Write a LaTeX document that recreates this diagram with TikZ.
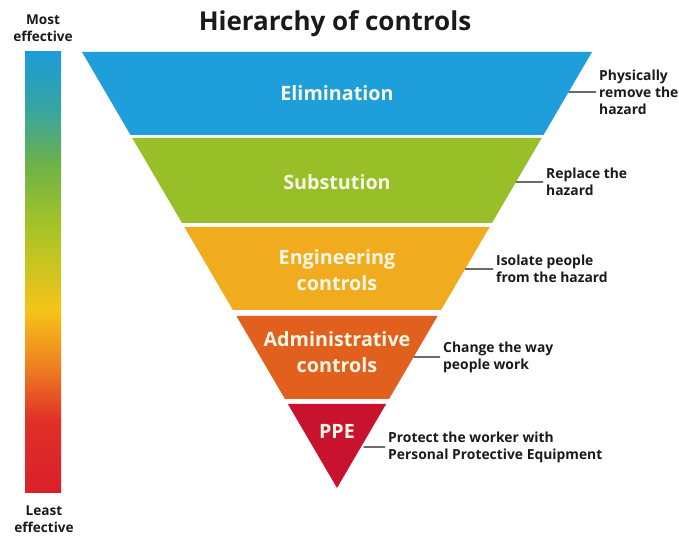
\documentclass[tikz,border=0pt]{standalone}
\usepackage{fontspec}
\setmainfont{Open Sans}
\usetikzlibrary{calc}

% band colours
\definecolor{elimblue}{RGB}{30,158,218}
\definecolor{substgreen}{RGB}{152,190,40}
\definecolor{enggold}{RGB}{240,172,30}
\definecolor{adminorange}{RGB}{226,96,30}
\definecolor{ppered}{RGB}{200,18,46}
\definecolor{labelwhite}{RGB}{248,246,228}
\definecolor{notetext}{RGB}{26,26,26}
% effectiveness bar stops
\definecolor{gbA}{RGB}{30,155,215}
\definecolor{gbB}{RGB}{55,165,160}
\definecolor{gbC}{RGB}{110,178,70}
\definecolor{gbD}{RGB}{170,196,38}
\definecolor{gbE}{RGB}{245,196,25}
\definecolor{gbF}{RGB}{238,122,34}
\definecolor{gbG}{RGB}{224,48,40}
\definecolor{gbH}{RGB}{218,32,42}

% one trapezoid slice of the inverted triangle, between heights #1 and #2
\newcommand\hcband[3]{%
  \fill[#3] ($(L)!{(#1-52)/436}!(A)$) -- ($(R)!{(#1-52)/436}!(A)$)
     -- ($(R)!{(#2-52)/436}!(A)$) -- ($(L)!{(#2-52)/436}!(A)$) -- cycle;}

\begin{document}
\begin{tikzpicture}[x=0.75pt,y=-0.75pt,
  title/.style={text=notetext,font=\bfseries\fontsize{19.5}{23}\selectfont,inner sep=0},
  bandlabel/.style={text=labelwhite,font=\bfseries\fontsize{14.8}{19.5}\selectfont,align=center,inner sep=0},
  note/.style={text=notetext,font=\bfseries\fontsize{10.4}{12.75}\selectfont,align=left,anchor=west,inner xsep=2.2pt,inner ysep=0},
  sidelabel/.style={text=notetext,font=\bfseries\fontsize{10.2}{12.75}\selectfont,align=center,inner sep=0},
  leader/.style={draw=notetext,line width=1.1pt}]
\useasboundingbox (0,0) rectangle (679,538);

% outline of the inverted triangle
\coordinate (L) at (82,52);
\coordinate (R) at (592,52);
\coordinate (A) at (337,488);

% effectiveness scale
\shade[top color=gbA,bottom color=gbB] (25,52) rectangle (61,110.6);
\shade[top color=gbB,bottom color=gbC] (25,110) rectangle (61,165.6);
\shade[top color=gbC,bottom color=gbD] (25,165) rectangle (61,230.6);
\shade[top color=gbD,bottom color=gbE] (25,230) rectangle (61,310.6);
\shade[top color=gbE,bottom color=gbF] (25,310) rectangle (61,370.6);
\shade[top color=gbF,bottom color=gbG] (25,370) rectangle (61,420.6);
\shade[top color=gbG,bottom color=gbH] (25,420) rectangle (61,493);

\node[sidelabel] (most) at (43,28) {Most\\effective};
\node[sidelabel] (least) at (44,519) {Least\\effective};

\node[title] (title) at (335,24) {Hierarchy of controls};

% slices
\hcband{52}{135}{elimblue}
\hcband{138}{223}{substgreen}
\hcband{227}{310}{enggold}
\hcband{316}{399}{adminorange}
\hcband{404}{488}{ppered}

\node[bandlabel] (elim) at (337,93) {Elimination};
\node[bandlabel] (subst) at (337,182) {Substution};
\node[bandlabel] (eng) at (337,270) {Engineering\\controls};
\node[bandlabel] (admin) at (337,352) {Administrative\\controls};
\node[bandlabel] (ppe) at (337,431) {PPE};

% leader start points on the right-hand edge
\coordinate (e1) at ($(R)!{(92-52)/436}!(A)$);
\coordinate (e2) at ($(R)!{(182-52)/436}!(A)$);
\coordinate (e3) at ($(R)!{(269-52)/436}!(A)$);
\coordinate (e4) at ($(R)!{(357-52)/436}!(A)$);
\coordinate (e5) at ($(R)!{(447-52)/436}!(A)$);

\node[note] (n1) at (596,92) {Physically\\remove the\\hazard};
\node[note] (n2) at (543,182) {Replace the\\hazard};
\node[note] (n3) at (493,269) {Isolate people\\from the hazard};
\node[note] (n4) at (440,357) {Change the way\\people work};
\node[note] (n5) at (385,447) {Protect the worker with\\Personal Protective Equipment};

\draw[leader] (e1) -- (n1.west);
\draw[leader] (e2) -- (n2.west);
\draw[leader] (e3) -- (n3.west);
\draw[leader] (e4) -- (n4.west);
\draw[leader] ([xshift=2]e5) -- (n5.west);
\end{tikzpicture}
\end{document}
